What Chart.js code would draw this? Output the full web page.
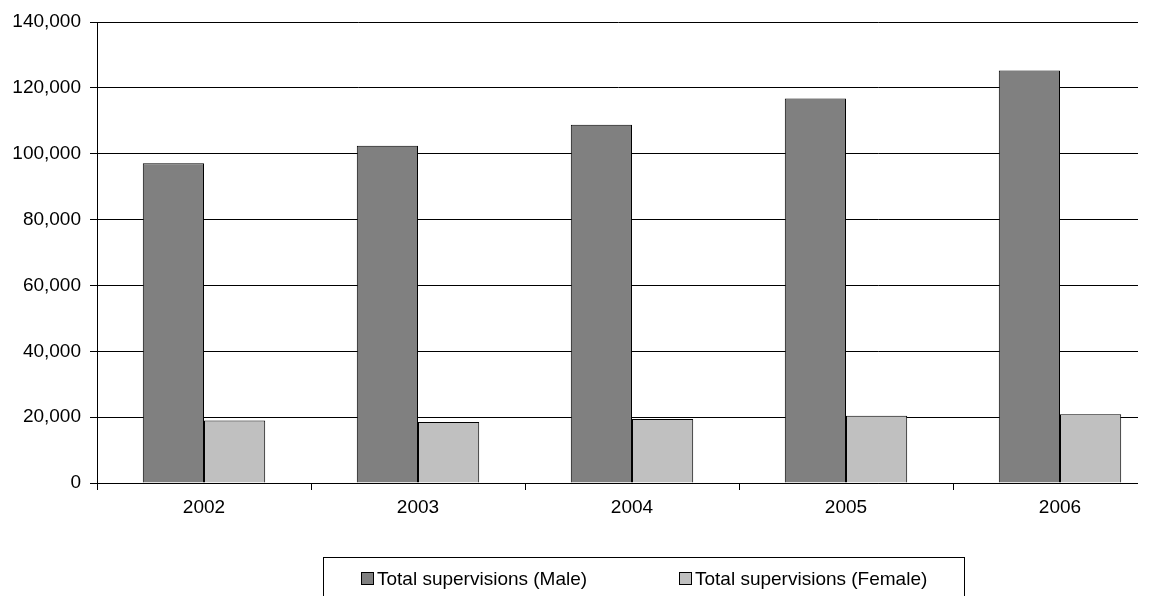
<!DOCTYPE html>
<html>
<head>
<meta charset="utf-8">
<script src="https://cdn.jsdelivr.net/npm/chart.js@4/dist/chart.umd.min.js"></script>
<style>
  html, body { margin: 0; padding: 0; background: #ffffff; overflow: hidden; }
  body { width: 1155px; height: 596px; }
  #wrap { width: 1185px; height: 596px; position: relative; }
</style>
</head>
<body>
<div id="wrap"><canvas id="c"></canvas></div>
<script>
const categories = ["2002", "2003", "2004", "2005", "2006"];
const maleLabel = "Total supervisions (Male)";
const femaleLabel = "Total supervisions (Female)";
const maleValues = [97100, 102400, 108800, 116800, 125300];
const femaleValues = [19000, 18500, 19400, 20400, 20900];
const yTicks = [0, 20000, 40000, 60000, 80000, 100000, 120000, 140000];

const FONT = "'Liberation Sans', Arial, sans-serif";
const FS = 19;

// the plot frame is cut off at the right, as in the reference
const frameClip = {
  id: 'frameClip',
  beforeDraw(chart) {
    const ctx = chart.ctx;
    ctx.save();
    ctx.beginPath();
    ctx.rect(0, 0, 1138, chart.height);
    ctx.clip();
  },
  afterDraw(chart) { chart.ctx.restore(); }
};

const boxedLegend = {
  id: 'boxedLegend',
  afterDraw(chart) {
    const ctx = chart.ctx;
    const ds = chart.data.datasets;
    ctx.save();
    ctx.strokeStyle = '#000';
    ctx.lineWidth = 1;
    ctx.strokeRect(323.5, 557.5, 641, 50);
    ctx.font = FS + 'px ' + FONT;
    ctx.textBaseline = 'middle';
    const xs = [361, 679];
    const yc = 579;
    ds.forEach((d, i) => {
      const x = xs[i];
      ctx.fillStyle = d.backgroundColor;
      ctx.fillRect(x + 0.5, yc - 6.5, 12, 12);
      ctx.strokeStyle = '#000';
      ctx.strokeRect(x + 0.5, yc - 6.5, 12, 12);
      ctx.fillStyle = '#000';
      ctx.fillText(d.label, x + 16, yc + 1);
    });
    ctx.restore();
  }
};

new Chart(document.getElementById('c'), {
  type: 'bar',
  data: {
    labels: categories,
    datasets: [
      { label: maleLabel, data: maleValues, backgroundColor: '#808080', borderColor: '#000', borderWidth: 1 },
      { label: femaleLabel, data: femaleValues, backgroundColor: '#c0c0c0', borderColor: '#000', borderWidth: 1 }
    ]
  },
  options: {
    responsive: true,
    maintainAspectRatio: false,
    animation: false,
    devicePixelRatio: 1,
    layout: { padding: { left: 0, right: 18, top: 22, bottom: 0 } },
    plugins: { legend: { display: false }, tooltip: { enabled: false } },
    datasets: { bar: { categoryPercentage: 0.572, barPercentage: 1.0 } },
    scales: {
      x: {
        afterFit(scale) { scale.height = 113; scale.paddingLeft = 0; scale.paddingRight = 0; },
        grid: { display: true, drawOnChartArea: false, drawTicks: true, tickLength: 7, color: '#000', offset: true },
        border: { display: true, color: '#000', width: 1 },
        ticks: { color: '#000', font: { family: FONT, size: FS }, padding: 6, maxRotation: 0 }
      },
      y: {
        min: 0, max: 140000,
        afterBuildTicks(scale) { scale.ticks = yTicks.map(v => ({ value: v })); },
        afterFit(scale) { scale.width = 97; scale.paddingTop = 0; scale.paddingBottom = 0; },
        grid: { color: '#000', lineWidth: 1, tickLength: 7, drawTicks: true },
        border: { display: true, color: '#000', width: 1 },
        ticks: {
          color: '#000', font: { family: FONT, size: FS }, padding: 9,
          callback: v => v.toLocaleString('en-US')
        }
      }
    }
  },
  plugins: [frameClip, boxedLegend]
});
</script>
</body>
</html>
